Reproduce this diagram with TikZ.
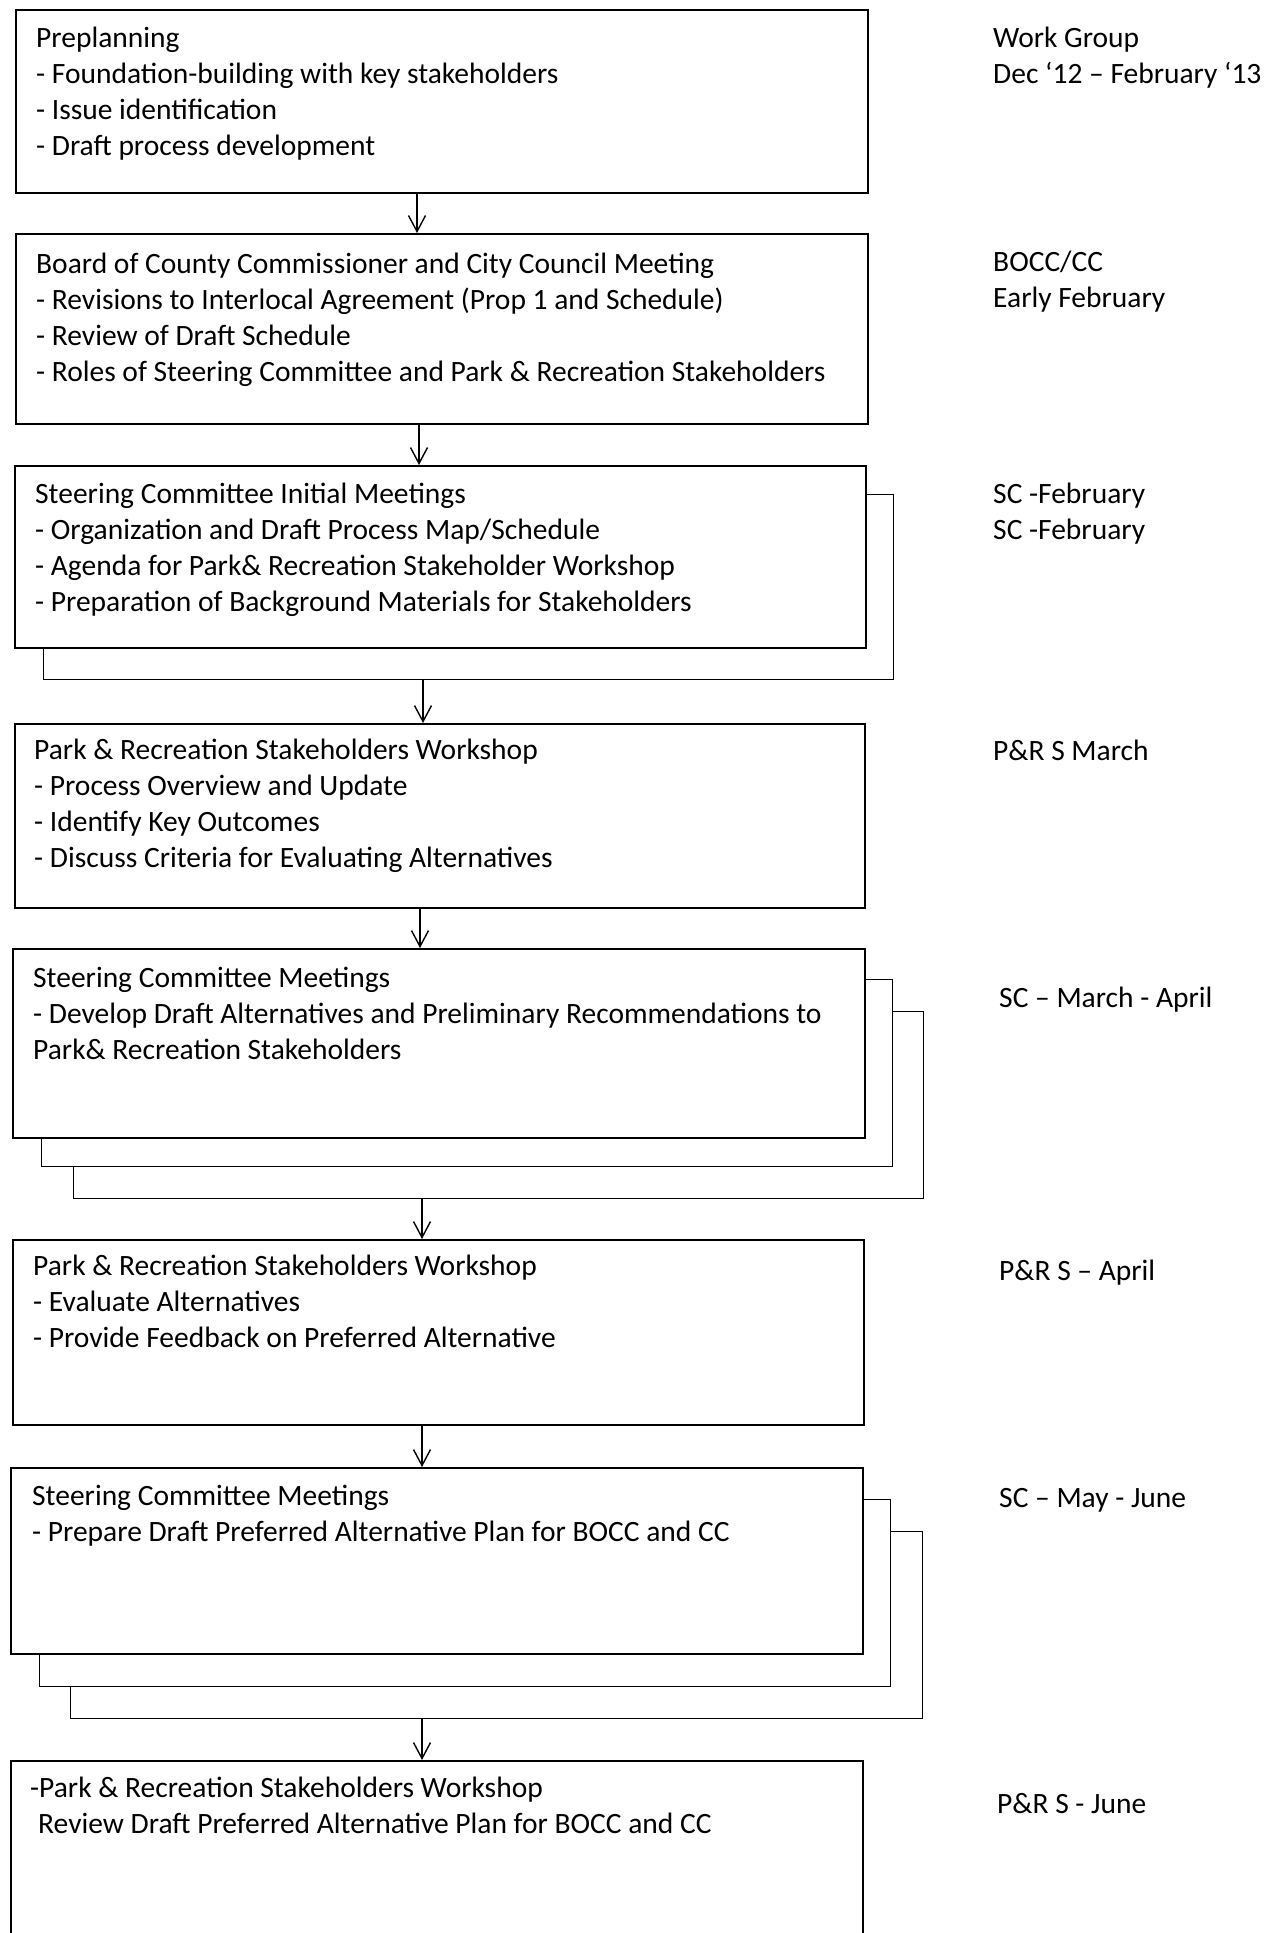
\documentclass[tikz,border=0pt]{standalone}
\usepackage{fontspec}
\setmainfont{Carlito}
\usetikzlibrary{arrows.meta}
\begin{document}
\begin{tikzpicture}[x=1pt,y=-1pt,
  box/.style={draw, line width=1.6pt, fill=white, anchor=north west, inner sep=0pt},
  backbox/.style={draw, line width=1.3pt, fill=white, anchor=north west, inner sep=0pt},
  farbox/.style={draw, line width=1.1pt, fill=white, anchor=north west, inner sep=0pt},
  txt/.style={anchor=north west, inner sep=0pt, align=left, font=\fontsize{29.5}{36}\selectfont, execute at begin node=\strut},
  arr/.style={line width=1.4pt, -{Straight Barb[length=16pt,width=17pt,line width=1.4pt]}}]
\path[use as bounding box] (0,0) rectangle (1270,1933);
\clip (0,0) rectangle (1270,1933);
\fill[white] (0,0) rectangle (1270,1933);
% arrow x positions
\coordinate (x1) at (417,0);
\coordinate (x2) at (419,0);
\coordinate (x3) at (423,0);
\coordinate (x4) at (420,0);
\coordinate (x5) at (422,0);
% boxes
\node[box, minimum width=852pt, minimum height=183pt] (b1) at (15,9) {};
\node[box, minimum width=852pt, minimum height=190pt] (b2) at (15,233) {};
\node[backbox, minimum width=850pt, minimum height=185pt] (b3b) at (43,494) {};
\node[box, minimum width=851pt, minimum height=182pt] (b3) at (14,465) {};
\node[box, minimum width=850pt, minimum height=184pt] (b4) at (14,723) {};
\node[farbox, minimum width=850pt, minimum height=187pt] (b5c) at (73,1011) {};
\node[backbox, minimum width=851pt, minimum height=187pt] (b5b) at (41,979) {};
\node[box, minimum width=852pt, minimum height=189pt] (b5) at (12,948) {};
\node[box, minimum width=851pt, minimum height=185pt] (b6) at (12,1239) {};
\node[farbox, minimum width=852pt, minimum height=187pt] (b7c) at (70,1531) {};
\node[backbox, minimum width=851pt, minimum height=187pt] (b7b) at (39,1499) {};
\node[box, minimum width=852pt, minimum height=186pt] (b7) at (10,1467) {};
\node[box, minimum width=852pt, minimum height=200pt] (b8) at (10,1760) {};
% box texts
\node[txt] (t1) at (36,27) {Preplanning\\- Foundation-building with key stakeholders\\- Issue identification\\- Draft process development};
\node[txt] (t2) at (36,253) {Board of County Commissioner and City Council Meeting\\- Revisions to Interlocal Agreement (Prop 1 and Schedule)\\- Review of Draft Schedule\\- Roles of Steering Committee and Park \& Recreation Stakeholders};
\node[txt] (t3) at (35,483) {Steering Committee Initial Meetings\\- Organization and Draft Process Map/Schedule\\- Agenda for Park\& Recreation Stakeholder Workshop\\- Preparation of Background Materials for Stakeholders};
\node[txt] (t4) at (34,739) {Park \& Recreation Stakeholders Workshop\\- Process Overview and Update\\- Identify Key Outcomes\\- Discuss Criteria for Evaluating Alternatives};
\node[txt] (t5) at (33,967) {Steering Committee Meetings\\- Develop Draft Alternatives and Preliminary Recommendations to\\Park\& Recreation Stakeholders};
\node[txt] (t6) at (33,1255) {Park \& Recreation Stakeholders Workshop\\- Evaluate Alternatives\\- Provide Feedback on Preferred Alternative};
\node[txt] (t7) at (32,1485) {Steering Committee Meetings\\- Prepare Draft Preferred Alternative Plan for BOCC and CC};
\node[txt] (t8) at (30,1777) {-Park \& Recreation Stakeholders Workshop\\\hspace*{8pt}Review Draft Preferred Alternative Plan for BOCC and CC};
% right column texts
\node[txt] (r1) at (993,27) {Work Group\\Dec ‘12 – February ‘13};
\node[txt] (r2) at (993,251) {BOCC/CC\\Early February};
\node[txt] (r3) at (993,483) {SC -February\\SC -February};
\node[txt] (r4) at (993,735) {P\&R S March};
\node[txt] (r5) at (999,982) {SC – March - April};
\node[txt] (r6) at (999,1255) {P\&R S – April};
\node[txt] (r7) at (999,1482) {SC – May - June};
\node[txt] (r8) at (997,1788) {P\&R S - June};
% arrows
\draw[arr] (b1.south -| x1) -- (b2.north -| x1);
\draw[arr] (b2.south -| x2) -- (b3.north -| x2);
\draw[arr] (b3b.south -| x3) -- (b4.north -| x3);
\draw[arr] (b4.south -| x4) -- (b5.north -| x4);
\draw[arr] (b5c.south -| x5) -- (b6.north -| x5);
\draw[arr] (b6.south -| x5) -- (b7.north -| x5);
\draw[arr] (b7c.south -| x5) -- (b8.north -| x5);
\end{tikzpicture}
\end{document}
